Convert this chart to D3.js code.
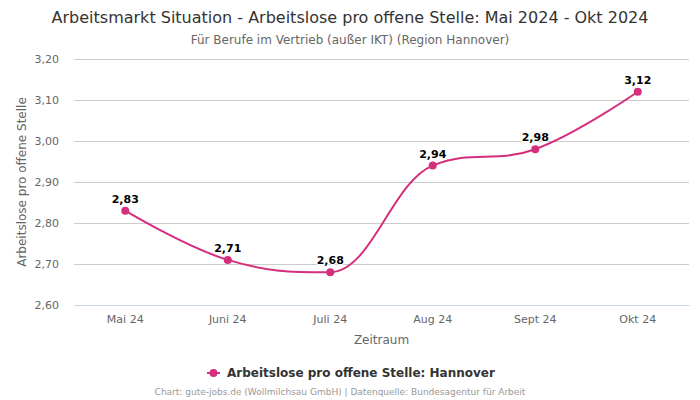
<!DOCTYPE html>
<html><head><meta charset="utf-8">
<script src="https://cdn.jsdelivr.net/npm/d3@7/dist/d3.min.js"></script>
<style>body{margin:0;background:#fff}svg{display:block;font-family:"DejaVu Sans",sans-serif}</style>
</head><body><svg id="c" width="700" height="400"></svg>
<script>
const categories = ["Mai 24","Juni 24","Juli 24","Aug 24","Sept 24","Okt 24"];
const values = [2.83, 2.71, 2.68, 2.94, 2.98, 3.12];
const yTicks = [2.60, 2.70, 2.80, 2.90, 3.00, 3.10, 3.20];
const seriesName = "Arbeitslose pro offene Stelle: Hannover";
const color = "#d42f7d";
const fmt = v => v.toFixed(2).replace(".", ",");

const svg = d3.select("#c");
const L = 74, R = 689, T = 59, B = 305;
const x = d3.scaleBand().domain(categories).range([L, R]);
const y = d3.scaleLinear().domain([2.6, 3.2]).range([B, T]);

svg.append("text").attr("x",350).attr("y",23).attr("text-anchor","middle")
  .attr("font-size",16).attr("fill","#333").text("Arbeitsmarkt Situation - Arbeitslose pro offene Stelle: Mai 2024 - Okt 2024");
svg.append("text").attr("x",350).attr("y",44).attr("text-anchor","middle")
  .attr("font-size",12).attr("fill","#666").text("Für Berufe im Vertrieb (außer IKT) (Region Hannover)");

// grid
const yAxis = d3.axisLeft(y).tickValues(yTicks).tickSize(-(R-L)).tickFormat(fmt);
const gy = svg.append("g").attr("transform",`translate(${L},0)`).call(yAxis);
gy.select(".domain").remove();
gy.selectAll(".tick line").attr("stroke","#ccc");
gy.selectAll(".tick text").attr("x",-15).attr("font-size",11).attr("fill","#666").attr("font-family","DejaVu Sans");
gy.selectAll(".tick").filter(d => d === 2.6).select("line").attr("stroke","#ccd6eb");

const xAxis = d3.axisBottom(x).tickSize(0).tickPadding(10);
const gx = svg.append("g").attr("transform",`translate(0,${B})`).call(xAxis);
gx.select(".domain").attr("stroke","#ccd6eb");
gx.selectAll(".tick text").attr("font-size",11).attr("fill","#666").attr("font-family","DejaVu Sans");

svg.append("text").attr("x",(L+R)/2).attr("y",344).attr("text-anchor","middle")
  .attr("font-size",12).attr("fill","#666").text("Zeitraum");
svg.append("text").attr("transform",`translate(26,${(T+B)/2}) rotate(-90)`).attr("text-anchor","middle")
  .attr("font-size",12).attr("fill","#666").text("Arbeitslose pro offene Stelle");

// Highcharts-like spline
const pts = values.map((v,i)=>({x:x(categories[i])+x.bandwidth()/2, y:y(v)}));
const sm = 1.5, den = sm+1;
const p = d3.path();
pts.forEach((pt,i)=>{
  if(i===0){p.moveTo(pt.x,pt.y);return;}
  const last = pts[i-1], next = pts[i+1];
  let lcx = pt.x, lcy = pt.y;
  if(next){
    lcx = (sm*pt.x+last.x)/den; lcy=(sm*pt.y+last.y)/den;
    let rcx=(sm*pt.x+next.x)/den, rcy=(sm*pt.y+next.y)/den;
    const corr = ((rcy-lcy)*(rcx-pt.x))/(rcx-lcx)+pt.y-rcy;
    lcy+=corr; rcy+=corr;
    if(lcy>last.y&&lcy>pt.y){lcy=Math.max(last.y,pt.y);rcy=2*pt.y-lcy;}
    else if(lcy<last.y&&lcy<pt.y){lcy=Math.min(last.y,pt.y);rcy=2*pt.y-lcy;}
    if(rcy>next.y&&rcy>pt.y){rcy=Math.max(next.y,pt.y);lcy=2*pt.y-rcy;}
    else if(rcy<next.y&&rcy<pt.y){rcy=Math.min(next.y,pt.y);lcy=2*pt.y-rcy;}
    pt.rcx=rcx; pt.rcy=rcy;
  }
  p.bezierCurveTo(last.rcx??last.x, last.rcy??last.y, lcx, lcy, pt.x, pt.y);
});
svg.append("path").attr("d",p.toString()).attr("fill","none").attr("stroke",color).attr("stroke-width",2);

svg.selectAll("circle.m").data(values).join("circle").attr("class","m")
  .attr("cx",(d,i)=>x(categories[i])+x.bandwidth()/2).attr("cy",d=>y(d)).attr("r",4).attr("fill",color);

svg.selectAll("text.dl").data(values).join("text").attr("class","dl")
  .attr("x",(d,i)=>x(categories[i])+x.bandwidth()/2).attr("y",d=>y(d)-8)
  .attr("text-anchor","middle").attr("font-size",11).attr("font-weight","bold").attr("fill","#000")
  .attr("stroke","#fff").attr("stroke-width",2).attr("stroke-linejoin","round").attr("paint-order","stroke")
  .text(fmt);

// legend
const lg = svg.append("g");
lg.append("line").attr("x1",207).attr("x2",220).attr("y1",373).attr("y2",373).attr("stroke",color).attr("stroke-width",2);
lg.append("circle").attr("cx",213.5).attr("cy",373).attr("r",4).attr("fill",color);
lg.append("text").attr("x",227).attr("y",377).attr("font-size",12).attr("font-weight","bold").attr("fill","#333").text(seriesName);

svg.append("text").attr("x",340).attr("y",395).attr("text-anchor","middle")
  .attr("font-size",9).attr("fill","#999").text("Chart: gute-jobs.de (Wollmilchsau GmbH) | Datenquelle: Bundesagentur für Arbeit");
</script></body></html>
